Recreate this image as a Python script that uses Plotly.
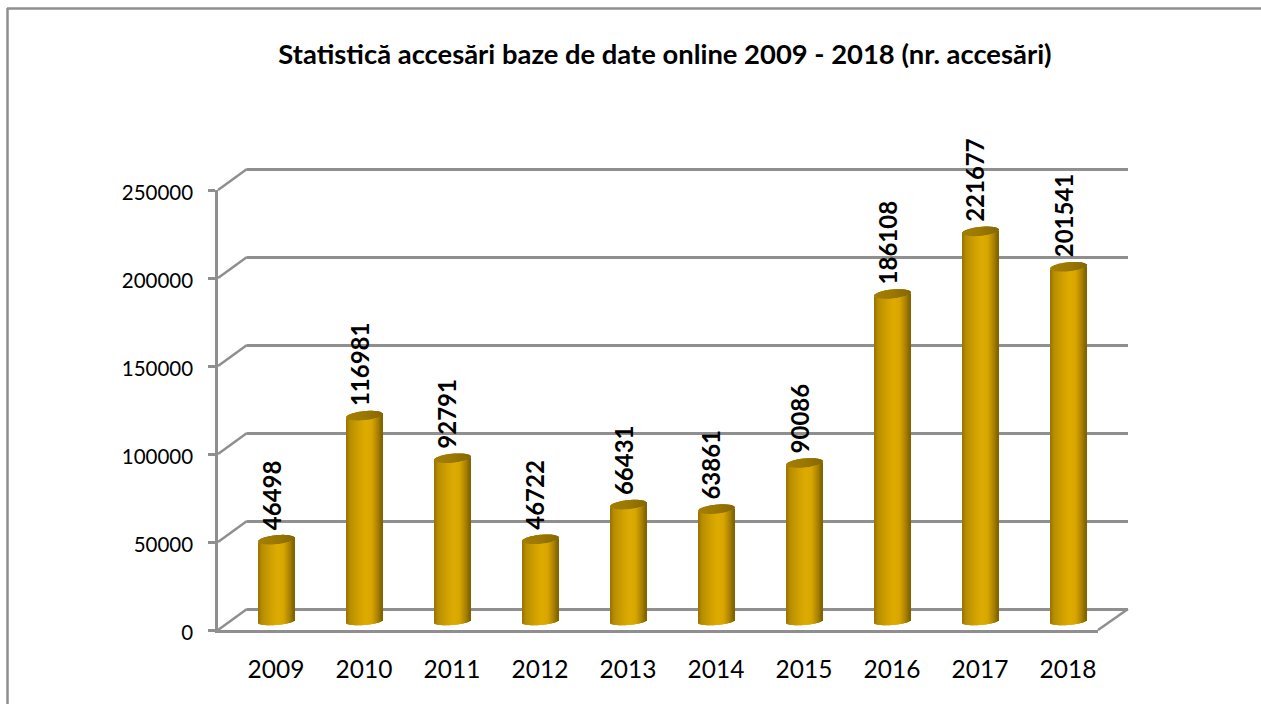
import plotly.graph_objects as go

years = ["2009","2010","2011","2012","2013","2014","2015","2016","2017","2018"]
accesari = [46498,116981,92791,46722,66431,63861,90086,186108,221677,201541]
y_ticks = [0,50000,100000,150000,200000,250000]
title_text = "Statistică accesări baze de date online 2009 - 2018 (nr. accesări)"

W, H = 1261, 704
GRAY = "#8f8f8f"
FONT = "Lato"
PX = 440 / 250000  # pixels per unit
def fx(p): return p / W
def fy(p): return 1 - p / H

idx = list(range(len(years)))
fig = go.Figure()

# invisible anchor traces for wall and front axes
fig.add_trace(go.Scatter(x=[0], y=[0], xaxis="x", yaxis="y", mode="markers", marker=dict(opacity=0), showlegend=False, hoverinfo="skip"))
fig.add_trace(go.Scatter(x=[0], y=[0], xaxis="x2", yaxis="y2", mode="markers", marker=dict(opacity=0), showlegend=False, hoverinfo="skip"))

# Cylinder shading stops (position across width, rgb)
stops = [(0.0,(150,115,0)),(0.12,(185,142,0)),(0.35,(208,160,0)),(0.55,(222,172,0)),(0.72,(214,165,0)),(0.88,(170,130,0)),(1.0,(125,96,0))]
cap_stops = [(0.0,(165,126,0)),(0.5,(155,120,0)),(1.0,(135,104,0))]
def shade(t, st):
    for (a,ca),(b,cb) in zip(st, st[1:]):
        if a <= t <= b:
            f = (t-a)/(b-a)
            return "rgb(%d,%d,%d)" % tuple(round(ca[k]+(cb[k]-ca[k])*f) for k in range(3))
    return "rgb(%d,%d,%d)" % st[-1][1]

BAR_W = 36.0
STEP = 88.0
N = 36
for s in range(N):
    t = (s + 0.5) / N
    u = 2 * t - 1
    sag = (1 - u * u) ** 0.5
    off = (s / N - 0.5) * BAR_W / STEP
    wid = (BAR_W / N + 0.15) / STEP
    low = u * 1.4 - 3.5 * sag
    cap_lo = u * 1.7 - 4.5 * sag
    cap_hi = u * 1.7 + 4.5 * sag
    fig.add_trace(go.Bar(
        x=idx, y=[(v + cap_lo / PX) - low / PX for v in accesari], base=[low / PX] * len(idx),
        offset=off, width=wid, xaxis="x2", yaxis="y3",
        marker=dict(color=shade(t, stops), line_width=0), showlegend=False, hoverinfo="skip"))
    fig.add_trace(go.Bar(
        x=idx, y=[(cap_hi - cap_lo) / PX] * len(idx), base=[v + cap_lo / PX for v in accesari],
        offset=off, width=wid, xaxis="x2", yaxis="y3",
        marker=dict(color=shade(t, cap_stops), line_width=0), showlegend=False, hoverinfo="skip"))

for i, v in zip(idx, accesari):
    fig.add_annotation(x=i, y=v, xref="x2", yref="y3", text=f"<b>{v}</b>", showarrow=False, textangle=-90,
                       yanchor="bottom", xanchor="center", xshift=-5, yshift=7.5,
                       font=dict(family=FONT, size=24, color="black"))

line = dict(color=GRAY, width=2.5)
shapes = [
    dict(type="line", xref="paper", yref="paper", x0=fx(7.5), x1=fx(7.5), y0=fy(8), y1=fy(704), line=line),
    dict(type="line", xref="paper", yref="paper", x0=fx(7), x1=fx(1261), y0=fy(8.5), y1=fy(8.5), line=line),
    dict(type="line", xref="paper", yref="paper", x0=fx(1098), x1=fx(1128), y0=fy(630), y1=fy(609), line=line),
]
for tv in y_ticks:
    py = 630 - tv * PX
    shapes.append(dict(type="line", xref="paper", yref="paper", x0=fx(218), x1=fx(247), y0=fy(py), y1=fy(py - 21), line=line))

WALL_TOP = 160
fig.update_layout(
    width=W, height=H, autosize=False, margin=dict(l=0, r=0, t=0, b=0),
    paper_bgcolor="white", plot_bgcolor="rgba(0,0,0,0)", barmode="overlay", showlegend=False,
    title=dict(text=f"<b>{title_text}</b>", x=665 / W, y=fy(54), xanchor="center", yanchor="middle",
               font=dict(family=FONT, size=27.4, color="black")),
    shapes=shapes,
    # back wall (grid only)
    xaxis=dict(domain=[fx(247), fx(1128)], range=[0, 1], visible=False, anchor="y", automargin=False),
    yaxis=dict(domain=[fy(609), fy(WALL_TOP)], range=[0, (609 - WALL_TOP) / PX], tickvals=y_ticks, showticklabels=False, ticks="",
               showgrid=True, gridcolor=GRAY, gridwidth=2.5, zeroline=True, zerolinecolor=GRAY, zerolinewidth=2.5,
               showline=False, anchor="x", automargin=False),
    # front axes
    xaxis2=dict(domain=[fx(218), fx(1098)], range=[(218 - 276) / STEP, (1098 - 276) / STEP], anchor="y2",
                tickvals=idx, ticktext=years, ticks="", showline=True, linecolor=GRAY, linewidth=2.5,
                showgrid=False, zeroline=False, tickfont=dict(family=FONT, size=24.5, color="black"),
                ticklabelstandoff=16, automargin=False),
    yaxis2=dict(domain=[fy(630), fy(190)], range=[0, 250000], anchor="x2", tickvals=y_ticks, tickformat="d",
                ticks="outside", ticklen=7, tickcolor=GRAY, tickwidth=2.5, showline=True, linecolor=GRAY, linewidth=2.5,
                showgrid=False, zeroline=False, tickfont=dict(family=FONT, size=20.5, color="black"),
                ticklabelstandoff=11, ticklabelshift=3, automargin=False),
    # cylinders (same pixels per unit as the front axis, base lifted by the 3D depth)
    yaxis3=dict(range=[-(630 - 621.5) / PX, (621.5 - 190) / PX], anchor="x2",
                overlaying="y2", visible=False, automargin=False),
)
fig.write_html("out.html", config=dict(displayModeBar=False),
               post_script="document.body.style.margin='0';window.dispatchEvent(new Event('resize'));")
